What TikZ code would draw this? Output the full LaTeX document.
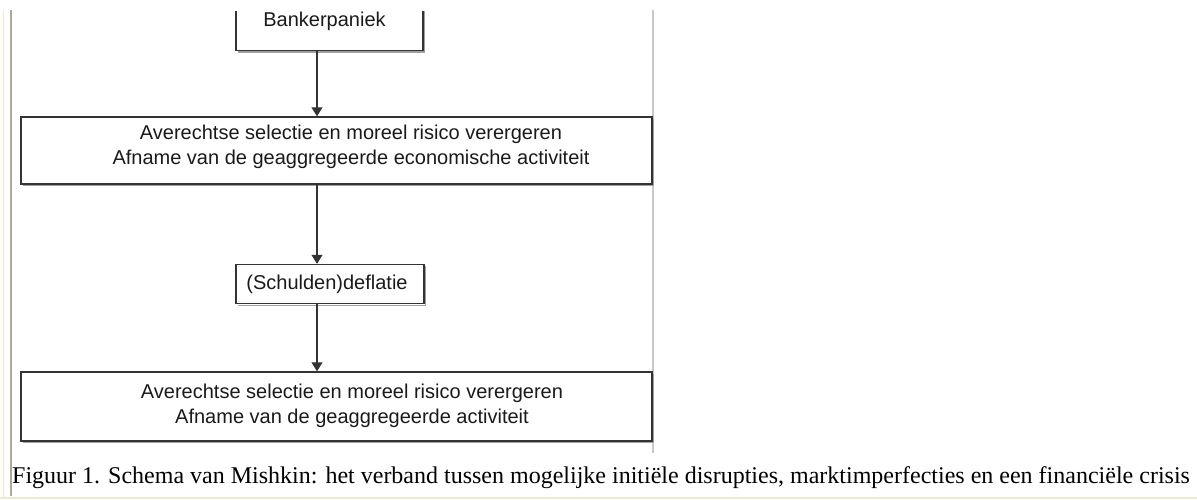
\documentclass[tikz,border=0pt]{standalone}
\usepackage{fontspec}
\setmainfont{Liberation Serif}
\newfontfamily\diafont{Liberation Sans}
\usetikzlibrary{arrows.meta}
\definecolor{xpbeige}{HTML}{ECE9D8}
\definecolor{xpgray}{HTML}{ACA899}
\definecolor{rulegray}{HTML}{C8C8C8}
\definecolor{boxline}{HTML}{333333}
\definecolor{boxshadow}{HTML}{A0A0A0}
\definecolor{inktext}{HTML}{1A1A1A}
\tikzset{
  flowbox/.style={draw=boxline, line width=1.4pt, fill=white, rectangle, inner sep=0pt},
  flowtext/.style={font=\diafont\fontsize{20}{25}\selectfont, text=inktext, align=center, inner sep=0pt},
  flowarrow/.style={draw=boxline, line width=1.1pt, -{Triangle[width=11pt,length=9pt]}},
  shadowline/.style={draw=boxshadow, line width=1.2pt},
  captext/.style={font=\fontsize{24}{28}\selectfont, text=black, inner sep=0pt, anchor=base west}
}
\begin{document}
\begin{tikzpicture}[x=1pt,y=-1pt]
\useasboundingbox[fill=white] (0,0) rectangle (1197,499);
% page frame
\draw[xpbeige, line width=1.5pt] (3.5,10) -- (3.5,499);
\draw[xpgray, line width=1.2pt] (11,10) -- (11,496);
\draw[xpbeige, line width=2pt] (0,497.5) -- (1197,497.5);
\draw[rulegray, line width=1.2pt] (653,10) -- (653,453);
\coordinate (ax) at (317,0);
% box 1 (top cut off)
\begin{scope}
\clip (0,11) rectangle (1197,499);
\draw[shadowline] (238,52) -- (424.5,52) -- (424.5,11);
\node[flowbox, minimum width=187pt, minimum height=64pt] (b1) at (329.5,18.5) {};
\end{scope}
\node[flowtext] (b1t) at (324.5,21) {Bankerpaniek};
% box 2
\draw[shadowline] (23,185.5) -- (653.5,185.5) -- (653.5,119);
\node[flowbox, minimum width=631pt, minimum height=67pt] (b2) at (336.5,150.5) {};
\node[flowtext] (b2t) at (351,146.5) {Averechtse selectie en moreel risico verergeren\\Afname van de geaggregeerde economische activiteit};
% box 3
\draw[shadowline] (238,305.5) -- (425.5,305.5) -- (425.5,266);
\node[flowbox, minimum width=188pt, minimum height=39pt] (b3) at (330,284) {};
\node[flowtext] (b3t) at (327,284) {(Schulden)deflatie};
% box 4
\draw[shadowline] (23,442.5) -- (653.5,442.5) -- (653.5,374);
\node[flowbox, minimum width=631pt, minimum height=69pt] (b4) at (336.5,406.5) {};
\node[flowtext] (b4t) at (352,406) {Averechtse selectie en moreel risico verergeren\\Afname van de geaggregeerde activiteit};
% connectors
\draw[flowarrow] (b1.south -| ax) -- (b2.north -| ax);
\draw[flowarrow] (b2.south -| ax) -- (b3.north -| ax);
\draw[flowarrow] (b3.south -| ax) -- (b4.north -| ax);
% caption
\node[captext] (cap) at (12,483) {Figuur 1. Schema van Mishkin: het verband tussen mogelijke initiële disrupties, marktimperfecties en een financiële crisis};
\end{tikzpicture}
\end{document}
